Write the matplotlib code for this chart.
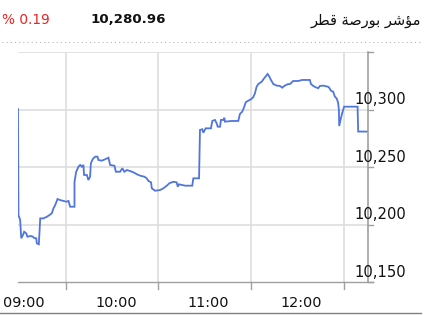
import matplotlib
matplotlib.use('Agg')
import matplotlib.pyplot as plt
from matplotlib.lines import Line2D
import numpy as np

# intraday index level, minutes after 09:00 and value
minutes = [29.0, 29.3, 30.4, 31.1, 32.2, 33.0, 34.3, 35.1, 37.3, 38.6, 39.5, 40.8, 41.2, 42.5,
           43.4, 45.5, 47.7, 49.4, 50.9, 52.0, 53.1, 54.6, 56.3, 58.4, 60.2, 61.7, 62.8, 65.6,
           65.6, 66.7, 68.2, 69.3, 70.4, 71.4, 71.8, 73.6, 74.6, 75.7, 76.2, 77.5, 79.0, 80.5,
           81.1, 83.3, 85.4, 87.6, 88.7, 91.5, 92.4, 95.1, 96.6, 97.9, 99.5, 101.6, 103.8, 106.0,
           108.1, 110.9, 112.4, 113.5, 115.2, 115.7, 117.8, 121.0, 123.2, 125.4, 127.1, 129.6,
           131.8, 132.5, 133.3, 137.2, 141.9, 142.6, 146.3, 146.9, 148.4, 149.1, 150.6, 154.0,
           154.9, 156.6, 157.7, 158.4, 159.9, 160.5, 162.0, 162.7, 163.1, 167.4, 171.7, 172.8,
           174.3, 175.6, 176.5, 178.2, 179.9, 181.4, 182.5, 183.6, 184.7, 186.9, 188.5, 189.4,
           190.7, 191.6, 192.9, 194.4, 196.6, 198.7, 200.2, 201.5, 203.7, 205.2, 207.3, 210.5,
           213.1, 218.1, 218.8, 220.3, 221.8, 223.5, 224.6, 226.7, 229.6, 230.4, 231.7, 233.2,
           234.3, 235.4, 236.4, 236.9, 237.1, 238.2, 239.0, 240.3, 249.0, 249.4, 255.3]
values = [10300.5, 10208.5, 10204.2, 10188.3, 10191.1, 10194.0, 10192.6, 10189.7, 10190.3, 10189.7,
          10188.5, 10188.3, 10183.9, 10183.1, 10205.6, 10205.6, 10207.0, 10208.5, 10210.0, 10214.3,
          10217.2, 10222.4, 10221.5, 10220.7, 10220.1, 10220.7, 10215.7, 10215.7, 10237.4, 10246.1,
          10250.5, 10252.0, 10250.5, 10252.0, 10243.3, 10243.3, 10238.9, 10241.8, 10253.4, 10257.2,
          10259.2, 10259.2, 10256.3, 10255.7, 10256.9, 10258.3, 10252.0, 10251.3, 10246.1, 10246.1,
          10249.1, 10246.1, 10247.6, 10246.7, 10245.6, 10243.9, 10242.7, 10241.8, 10240.4, 10238.1,
          10236.9, 10231.7, 10229.6, 10230.2, 10231.7, 10234.0, 10236.1, 10237.4, 10236.9, 10233.1,
          10235.2, 10234.0, 10234.0, 10240.4, 10240.4, 10282.4, 10283.0, 10280.0, 10283.8, 10283.8,
          10290.2, 10291.1, 10288.2, 10285.2, 10285.2, 10291.1, 10291.1, 10293.0, 10289.6, 10290.2,
          10290.2, 10296.3, 10298.3, 10302.6, 10306.4, 10307.8, 10309.0, 10310.8, 10314.2, 10320.0,
          10322.3, 10324.3, 10327.3, 10328.7, 10331.0, 10329.3, 10325.8, 10322.3, 10320.9, 10320.6,
          10319.1, 10320.6, 10322.1, 10322.3, 10324.9, 10324.9, 10325.8, 10325.8, 10322.3, 10320.6,
          10319.5, 10318.6, 10320.6, 10320.9, 10320.0, 10319.5, 10316.5, 10315.6, 10311.3, 10309.9,
          10306.1, 10299.7, 10285.8, 10292.5, 10296.9, 10302.6, 10302.6, 10281.0, 10280.96]

hour_grid = [60, 120, 180, 240]
time_labels = ['09:00', '10:00', '11:00', '12:00']
y_ticks = [10150, 10200, 10250, 10300, 10350]
y_labels = ['10,150', '10,200', '10,250', '10,300']

title_ar = 'مؤشر بورصة قطر'
last_value = '10,280.96'
change_pct = '% 0.19'

# matplotlib has no arabic shaping, so pick the presentation forms by hand
FORMS = {
    'م': ('\ufee1', '\ufee2', '\ufee3', '\ufee4'),
    'ش': ('\ufeb5', '\ufeb6', '\ufeb7', '\ufeb8'),
    'ب': ('\ufe8f', '\ufe90', '\ufe91', '\ufe92'),
    'ص': ('\ufeb9', '\ufeba', '\ufebb', '\ufebc'),
    'ق': ('\ufed5', '\ufed6', '\ufed7', '\ufed8'),
    'ط': ('\ufec1', '\ufec2', '\ufec3', '\ufec4'),
    'ؤ': ('\ufe85', '\ufe86'),
    'ر': ('\ufead', '\ufeae'),
    'و': ('\ufeed', '\ufeee'),
    'ة': ('\ufe93', '\ufe94'),
}

def shapeArabic(text):
    out = []
    for i, ch in enumerate(text):
        if ch not in FORMS:
            out.append(ch)
            continue
        prev = text[i-1] if i > 0 else ''
        nxt = text[i+1] if i < len(text)-1 else ''
        join_prev = prev in FORMS and len(FORMS[prev]) == 4
        join_next = len(FORMS[ch]) == 4 and nxt in FORMS
        if join_prev and join_next:
            out.append(FORMS[ch][3])
        elif join_prev:
            out.append(FORMS[ch][1])
        elif join_next:
            out.append(FORMS[ch][2])
        else:
            out.append(FORMS[ch][0])
    return ''.join(out[::-1])


W, H = 431, 315
fig = plt.figure(figsize=(W/100, H/100), dpi=100)
fig.patch.set_facecolor('white')
ax = fig.add_axes([18/W, (H-282.4)/H, 349.6/W, 230.3/H])

ax.plot(minutes, values, color='#5075dc', linewidth=1.3, solid_joinstyle='miter')
ax.set_xlim(29.0, 255.5)
ax.set_ylim(10150, 10350)

grid_col = '#dedede'
axis_col = '#a0a0a0'
for h in hour_grid:
    ax.axvline(h, color=grid_col, linewidth=1.2, zorder=0)
for v in y_ticks[1:]:
    ax.axhline(v, color=grid_col, linewidth=1.2, zorder=0)

for s in ['left', 'top', 'right', 'bottom']:
    ax.spines[s].set_visible(False)
ax.set_xticks([])
ax.set_yticks([])

ext = 1 + 5.5/349.6
# bottom axis, a bit past the right axis
ax.add_line(Line2D([0, ext], [0, 0], transform=ax.transAxes, color=axis_col, linewidth=1.0, clip_on=False))
# right axis
ax.add_line(Line2D([1, 1], [0, 1], transform=ax.transAxes, color=axis_col, linewidth=1.2, clip_on=False))
trans_y = ax.get_yaxis_transform()
for v in y_ticks:
    ax.add_line(Line2D([1, ext], [v, v], transform=trans_y, color=axis_col, linewidth=1.0, clip_on=False))
trans_x = ax.get_xaxis_transform()
for h in hour_grid:
    ax.add_line(Line2D([h, h], [0, -7/230.3], transform=trans_x, color=axis_col, linewidth=1.0, clip_on=False))

# time labels sit left of the hour lines
for h, lab in zip(hour_grid, time_labels):
    ax.annotate(lab, xy=(h, 0), xycoords=trans_x, xytext=(-30.6, -14.5), textcoords='offset points',
                ha='center', va='center', fontsize=10.4, color='#111111')
for v, lab in zip(y_ticks, y_labels):
    ax.annotate(lab, xy=((354-18)/349.6, v), xycoords=('axes fraction', 'data'), xytext=(0, 7.2),
                textcoords='offset points', ha='left', va='center', fontsize=10.6, color='#111111',
                annotation_clip=False)

# header
fig.text(2/W, 1-20/H, change_pct, ha='left', va='center', fontsize=9.8, color='#ee2222')
fig.text(90/W, 1-19.5/H, last_value, ha='left', va='center', fontsize=9.6, fontweight='bold', color='#111111')
fig.text(421/W, 1-21/H, shapeArabic(title_ar), ha='right', va='center', fontsize=10.5,
         color='#111111', family=['DejaVu Sans'])
fig.add_artist(Line2D([2/W, 421/W], [1-42.3/H, 1-42.3/H], transform=fig.transFigure, color='#b0b0b0',
                      linewidth=0.75, linestyle=(0, (1, 3))))
fig.add_artist(Line2D([0, 421/W], [1-312.7/H, 1-312.7/H], transform=fig.transFigure, color='#808080',
                      linewidth=1.0))

fig.savefig('out.png', dpi=100, facecolor='white')
